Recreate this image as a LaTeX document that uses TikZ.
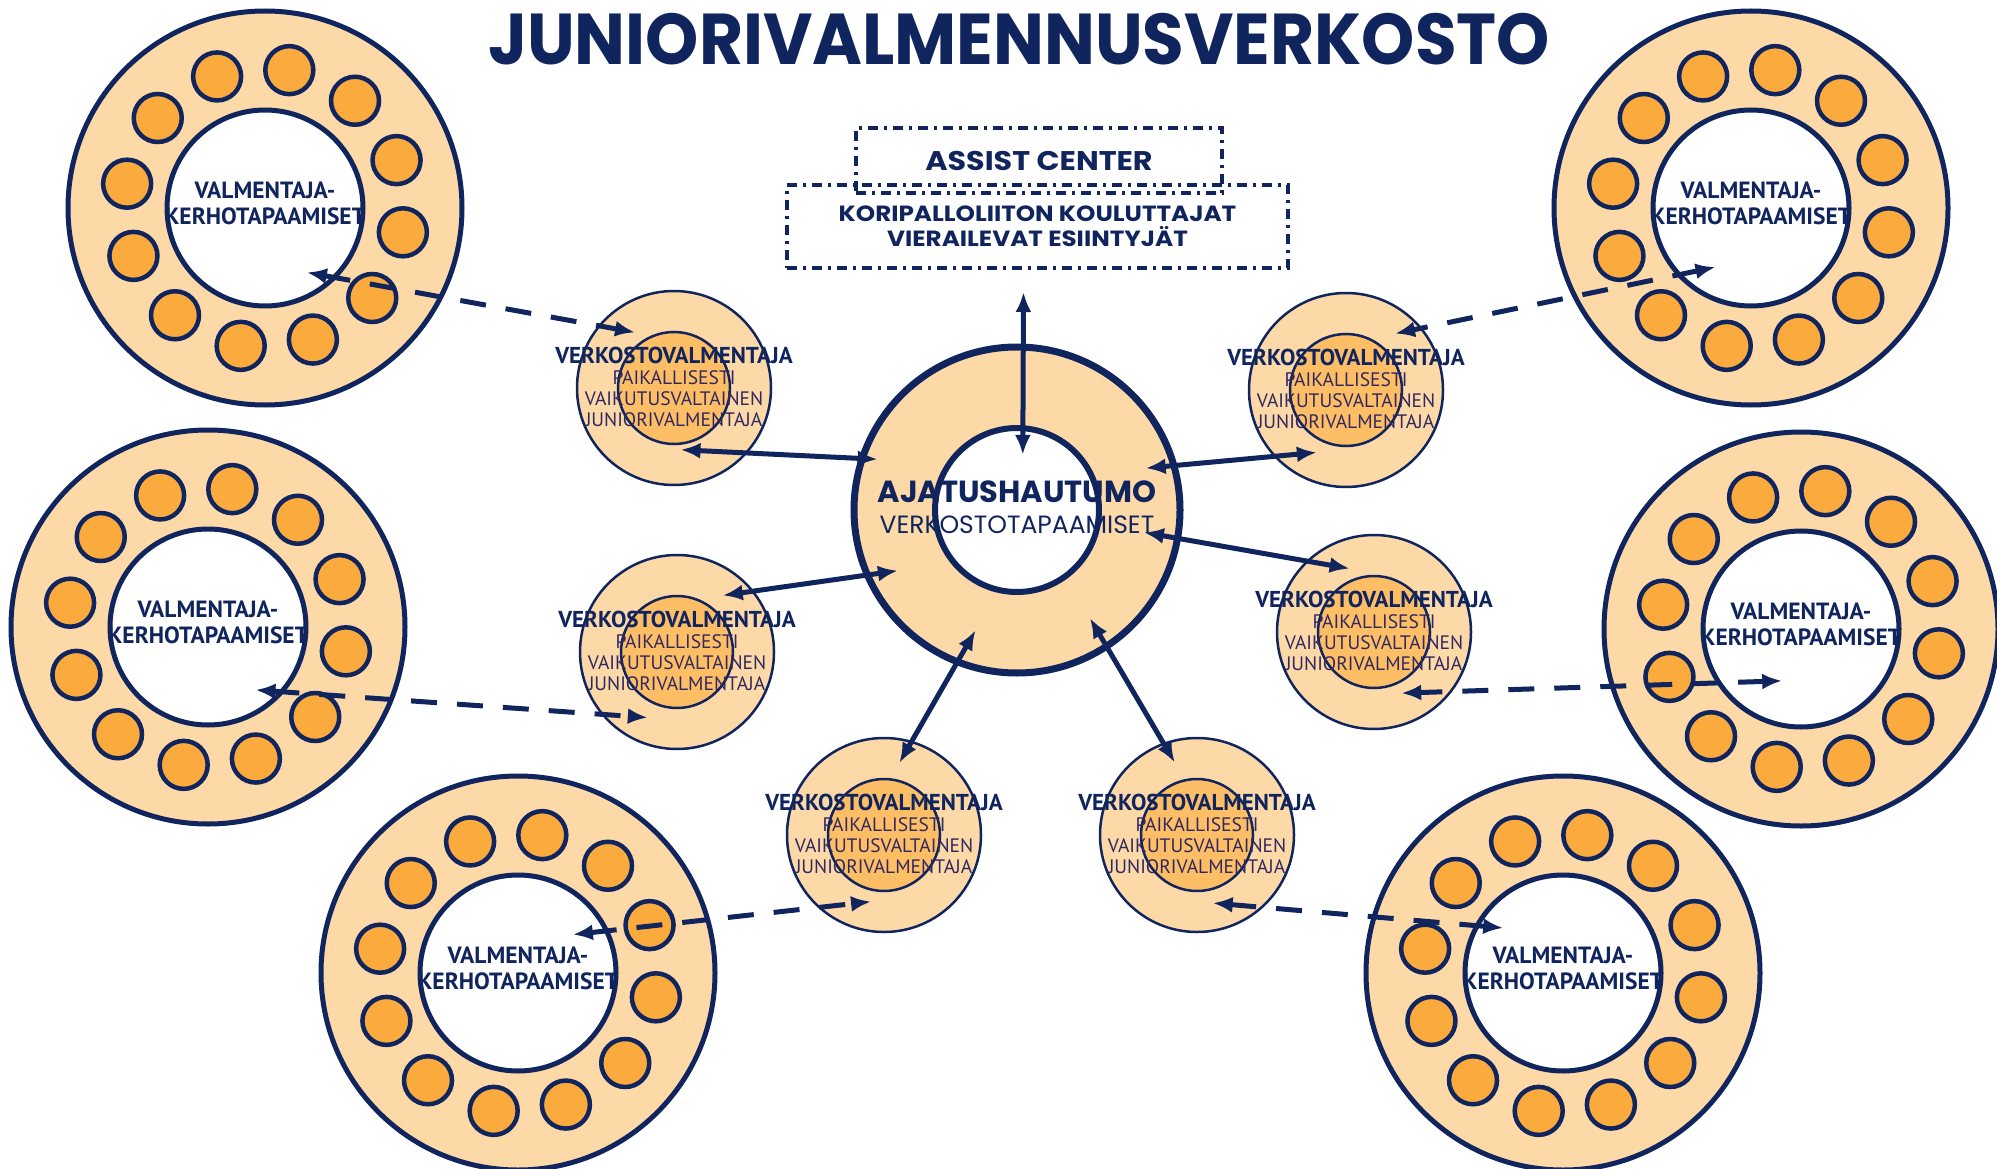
\documentclass[tikz,border=0pt]{standalone}
\usepackage{fontspec}
\setmainfont{Poppins}
\newfontfamily\titlefont[FakeStretch=0.94]{Poppins}
\newfontfamily\boxfont[FakeStretch=1.12]{Poppins}
\newfontfamily\dinfont{PT Sans}
\usetikzlibrary{calc,arrows.meta}
\definecolor{navy}{RGB}{16,36,94}
\definecolor{peach}{RGB}{253,217,168}
\definecolor{seatorange}{RGB}{251,170,62}
\definecolor{core}{RGB}{254,190,102}
\definecolor{ink}{RGB}{48,40,96}
\tikzset{
  bigring/.style={circle,draw=navy,fill=peach,line width=5pt,minimum size=394pt,inner sep=0pt,outer sep=0pt},
  hole/.style={circle,draw=navy,fill=white,line width=5pt,minimum size=196pt,inner sep=0pt,outer sep=0pt},
  seat/.style={circle,draw=navy,fill=seatorange,line width=4.5pt,minimum size=48pt,inner sep=0pt,outer sep=0pt},
  coach/.style={circle,draw=navy,fill=peach,line width=2.5pt,minimum size=194pt,inner sep=0pt,outer sep=0pt},
  coachcore/.style={circle,draw=navy,fill=core,line width=2.5pt,minimum size=112pt,inner sep=0pt,outer sep=0pt},
  hub/.style={circle,draw=navy,fill=peach,line width=7pt,minimum size=326pt,inner sep=0pt,outer sep=0pt},
  hubhole/.style={circle,draw=navy,fill=white,line width=6pt,minimum size=164pt,inner sep=0pt,outer sep=0pt},
  clubtxt/.style={align=center,text=navy,inner sep=0pt,font=\dinfont\bfseries\fontsize{23.5}{26}\selectfont},
  coachtxt/.style={align=center,text=ink,inner sep=0pt,font=\dinfont\fontsize{19.5}{21}\selectfont},
  dashbox/.style={draw=navy,line width=3.5pt,dash pattern=on 10pt off 6pt on 3pt off 6pt,inner sep=0pt,outer sep=0pt,text=navy,align=center},
  link/.style={{Latex[length=20pt,width=16pt]}-{Latex[length=20pt,width=16pt]},draw=navy,line width=5pt},
  dlink/.style={link,dash pattern=on 26pt off 20pt}
}

\begin{document}
\begin{tikzpicture}[x=1pt,y=-1pt]
	%%%%% START %%%%%
	\useasboundingbox (0,0) rectangle (1997,1169);
	
	\node[text=navy,anchor=base,font=\titlefont\bfseries\fontsize{72}{80}\selectfont] (title) at (1019,65) {JUNIORIVALMENNUSVERKOSTO};
	
	% club meetings round the edge
	\foreach \n/\x/\y in {clubnw/265/208, clubne/1751/208, clubw/208/627, clube/1801/629, clubsw/518/973, clubse/1563/973}{
		\node[bigring] (\n) at (\x,\y) {};
		\node[hole] (\n-in) at (\n) {};
		\foreach \k in {0,...,11}
			\node[seat] (\n-s\k) at ($(\n)+({80-30*\k}:140pt)$) {};
		\node[clubtxt] (\n-txt) at ($(\n)+(0,-5)$) {VALMENTAJA-\\KERHOTAPAAMISET};
	}
	
	% network coaches
	\foreach \n/\x/\y in {coachnw/674/388, coachw/677/652, coachsw/884/835, coachse/1197/835, coache/1374/632, coachne/1346/390}{
		\node[coach] (\n) at (\x,\y) {};
		\node[coachcore] (\n-in) at (\n) {};
		\node[coachtxt] (\n-txt) at ($(\n)+(0,-1)$) {{\color{navy}\bfseries\fontsize{23}{21}\selectfont VERKOSTOVALMENTAJA}\\PAIKALLISESTI\\VAIKUTUSVALTAINEN\\JUNIORIVALMENTAJA};
	}
	
	% think tank
	\node[hub] (hub) at (1017,510) {};
	\node[hubhole] (hub-in) at (hub) {};
	\node[text=navy,align=center,inner sep=0pt,font=\fontsize{25}{31}\selectfont] (hub-txt) at (1017,507) {{\bfseries\fontsize{30.5}{31}\selectfont AJATUSHAUTUMO}\\VERKOSTOTAPAAMISET};
	
	\node[dashbox,minimum width=366pt,minimum height=65pt,font=\boxfont\bfseries\fontsize{27}{30}\selectfont] (assist) at (1039,160.5) {ASSIST CENTER};
	\node[dashbox,minimum width=501pt,minimum height=83pt,font=\boxfont\bfseries\fontsize{22}{25}\selectfont] (info) at (1037.5,226.5) {KORIPALLOLIITON KOULUTTAJAT\\VIERAILEVAT ESIINTYJÄT};
	
	\draw[link] ($(info.south)+(-14,24)$) -- ($(hub)!.34!(hub.84)$);
	\draw[link] ($(hub)!.91!(hub.160)$) -- ($(coachnw)!.64!(coachnw.-84)$);
	\draw[link] ($(hub)!.82!(hub.207)$) -- ($(coachw)!.75!(coachw.51)$);
	\draw[link] ($(hub)!.78!(hub.-109)$) -- ($(coachsw)!.76!(coachsw.78)$);
	\draw[link] ($(hub)!.80!(hub.-56)$) -- ($(coachse)!.78!(coachse.107)$);
	\draw[link] ($(hub)!.79!(hub.-10)$) -- ($(coache)!.70!(coache.111)$);
	\draw[link] ($(hub)!.83!(hub.18)$) -- ($(coachne)!.71!(coachne.-115)$);
	
	\draw[dlink] ($(clubnw)!.39!(clubnw.-57)$) -- ($(coachnw)!.70!(coachnw.125)$);
	\draw[dlink] ($(clubne)!.35!(clubne.-121)$) -- ($(coachne)!.77!(coachne.49)$);
	\draw[dlink] ($(clubw)!.40!(clubw.-53)$) -- ($(coachw)!.74!(coachw.-114)$);
	\draw[dlink] ($(clube)!.28!(clube.-110)$) -- ($(coache)!.69!(coache.-66)$);
	\draw[dlink] ($(clubsw)!.34!(clubsw.35)$) -- ($(coachsw)!.70!(coachsw.-101)$);
	\draw[dlink] ($(clubse)!.38!(clubse.143)$) -- ($(coachse)!.72!(coachse.-77)$);
	%%%%% END %%%%%
\end{tikzpicture}
\end{document}
